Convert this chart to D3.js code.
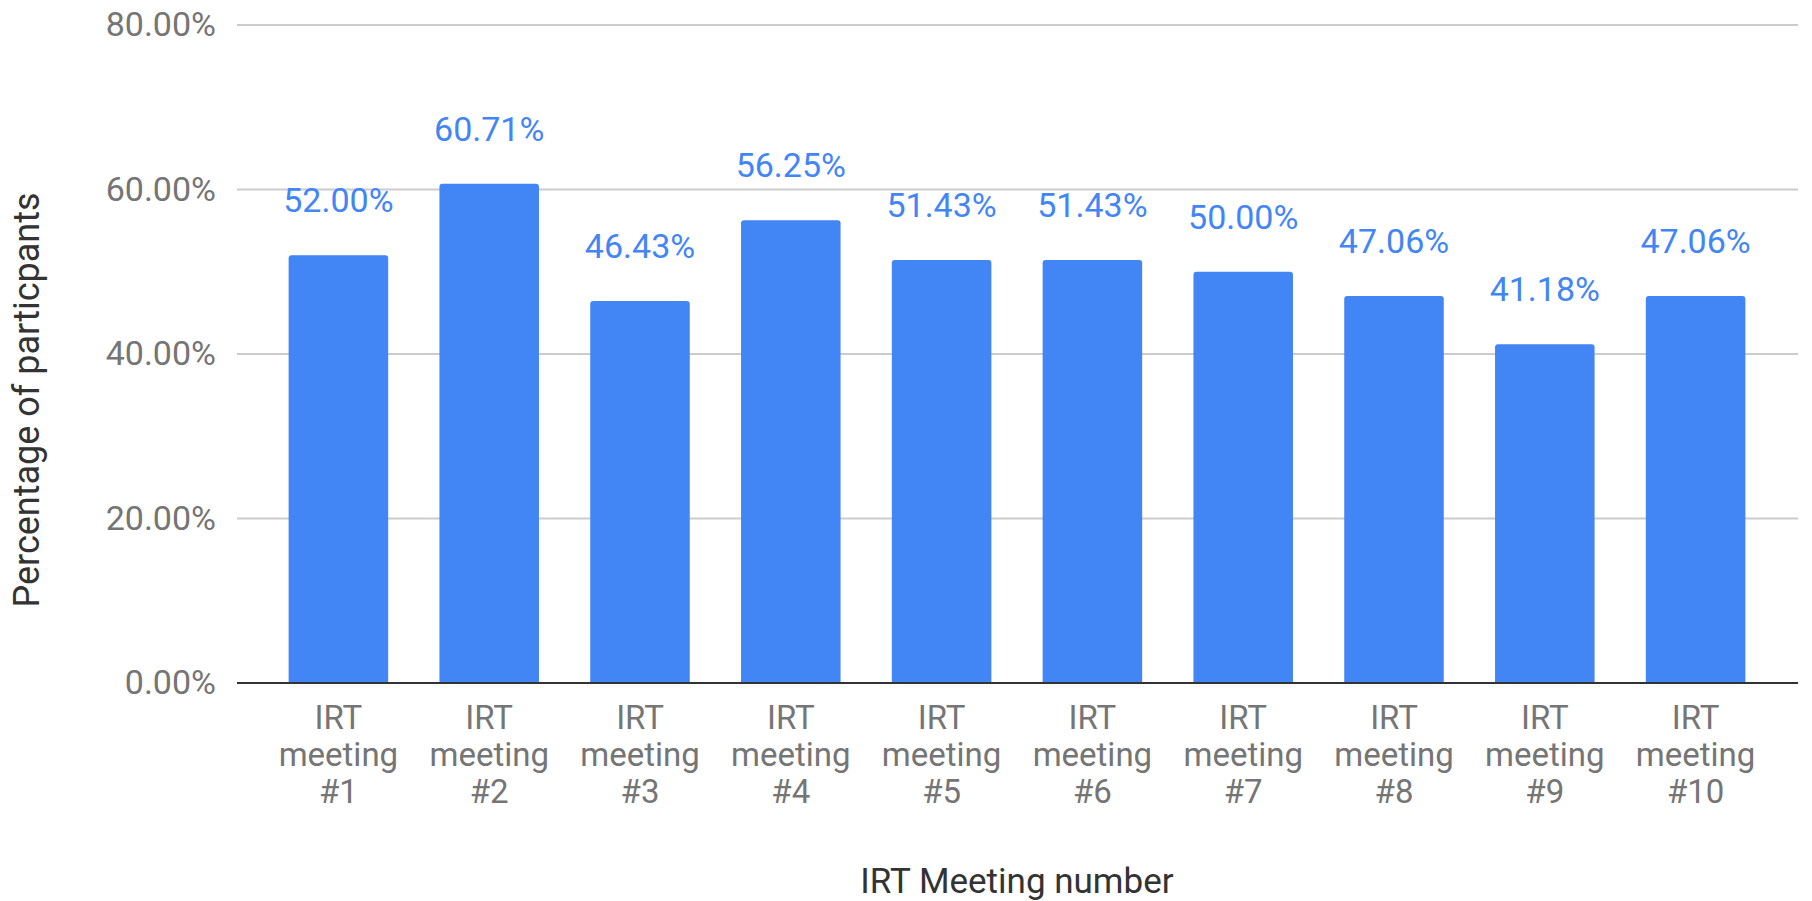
<!DOCTYPE html>
<html>
<head>
<meta charset="utf-8">
<script src="https://cdn.jsdelivr.net/npm/d3@7"></script>
<style>
  html, body { margin: 0; padding: 0; background: #fff; }
  svg { display: block; font-family: Roboto, "Noto Sans", sans-serif; }
</style>
</head>
<body>
<svg id="chart" width="1812" height="901"></svg>
<script>
const categories = ["IRT meeting #1","IRT meeting #2","IRT meeting #3","IRT meeting #4","IRT meeting #5","IRT meeting #6","IRT meeting #7","IRT meeting #8","IRT meeting #9","IRT meeting #10"];
const values = [52.00, 60.71, 46.43, 56.25, 51.43, 51.43, 50.00, 47.06, 41.18, 47.06];
const yTicks = [0, 20, 40, 60, 80];
const xTitle = "IRT Meeting number";
const yTitle = "Percentage of particpants";

const svg = d3.select("#chart");
const gridLeft = 237, gridRight = 1798;
const bandLeft = 263, bandRight = 1771;
const plotTop = 25, plotBottom = 683;

const x = d3.scaleBand().domain(categories).range([bandLeft, bandRight]).paddingInner(0.34).paddingOuter(0.17);
const y = d3.scaleLinear().domain([0, 80]).range([plotBottom, plotTop]);
const fmt = v => v.toFixed(2) + "%";

// gridlines
svg.append("g").selectAll("line").data(yTicks.filter(t => t !== 0)).join("line")
  .attr("x1", gridLeft).attr("x2", gridRight)
  .attr("y1", d => y(d)).attr("y2", d => y(d))
  .attr("stroke", "#cccccc").attr("stroke-width", 2);

// y tick labels
svg.append("g").selectAll("text").data(yTicks).join("text")
  .attr("x", 216).attr("y", d => y(d) + 11)
  .attr("text-anchor", "end").attr("font-size", 34).attr("fill", "#757575")
  .text(d => d.toFixed(2) + "%");

// bars with slightly rounded top corners
const r = 3;
svg.append("g").selectAll("path").data(values).join("path")
  .attr("fill", "#4285f4")
  .attr("d", (d, i) => {
    const x0 = x(categories[i]), w = x.bandwidth(), y0 = y(d), y1 = y(0);
    return `M${x0},${y1}V${y0 + r}Q${x0},${y0} ${x0 + r},${y0}H${x0 + w - r}Q${x0 + w},${y0} ${x0 + w},${y0 + r}V${y1}Z`;
  });

// baseline
svg.append("line").attr("x1", gridLeft).attr("x2", gridRight)
  .attr("y1", y(0)).attr("y2", y(0)).attr("stroke", "#333333").attr("stroke-width", 2);

// value labels
svg.append("g").selectAll("text").data(values).join("text")
  .attr("x", (d, i) => x(categories[i]) + x.bandwidth() / 2)
  .attr("y", d => y(d) - 43)
  .attr("text-anchor", "middle").attr("font-size", 34).attr("fill", "#4285f4")
  .text(d => fmt(d));

// x category labels (wrapped)
const xl = svg.append("g").selectAll("text").data(categories).join("text")
  .attr("x", d => x(d) + x.bandwidth() / 2)
  .attr("y", 729)
  .attr("text-anchor", "middle").attr("font-size", 33).attr("fill", "#757575");
xl.each(function(d) {
  const parts = d.split(" ");
  const t = d3.select(this);
  parts.forEach((ln, k) => {
    t.append("tspan").attr("x", x(d) + x.bandwidth() / 2).attr("dy", k === 0 ? 0 : 37).text(ln);
  });
});

// axis titles
svg.append("text").attr("x", (bandLeft + bandRight) / 2).attr("y", 893)
  .attr("text-anchor", "middle").attr("font-size", 35).attr("fill", "#333333").text(xTitle);
svg.append("text").attr("transform", `translate(39,400) rotate(-90)`)
  .attr("text-anchor", "middle").attr("font-size", 36).attr("fill", "#333333").text(yTitle);
</script>
</body>
</html>
